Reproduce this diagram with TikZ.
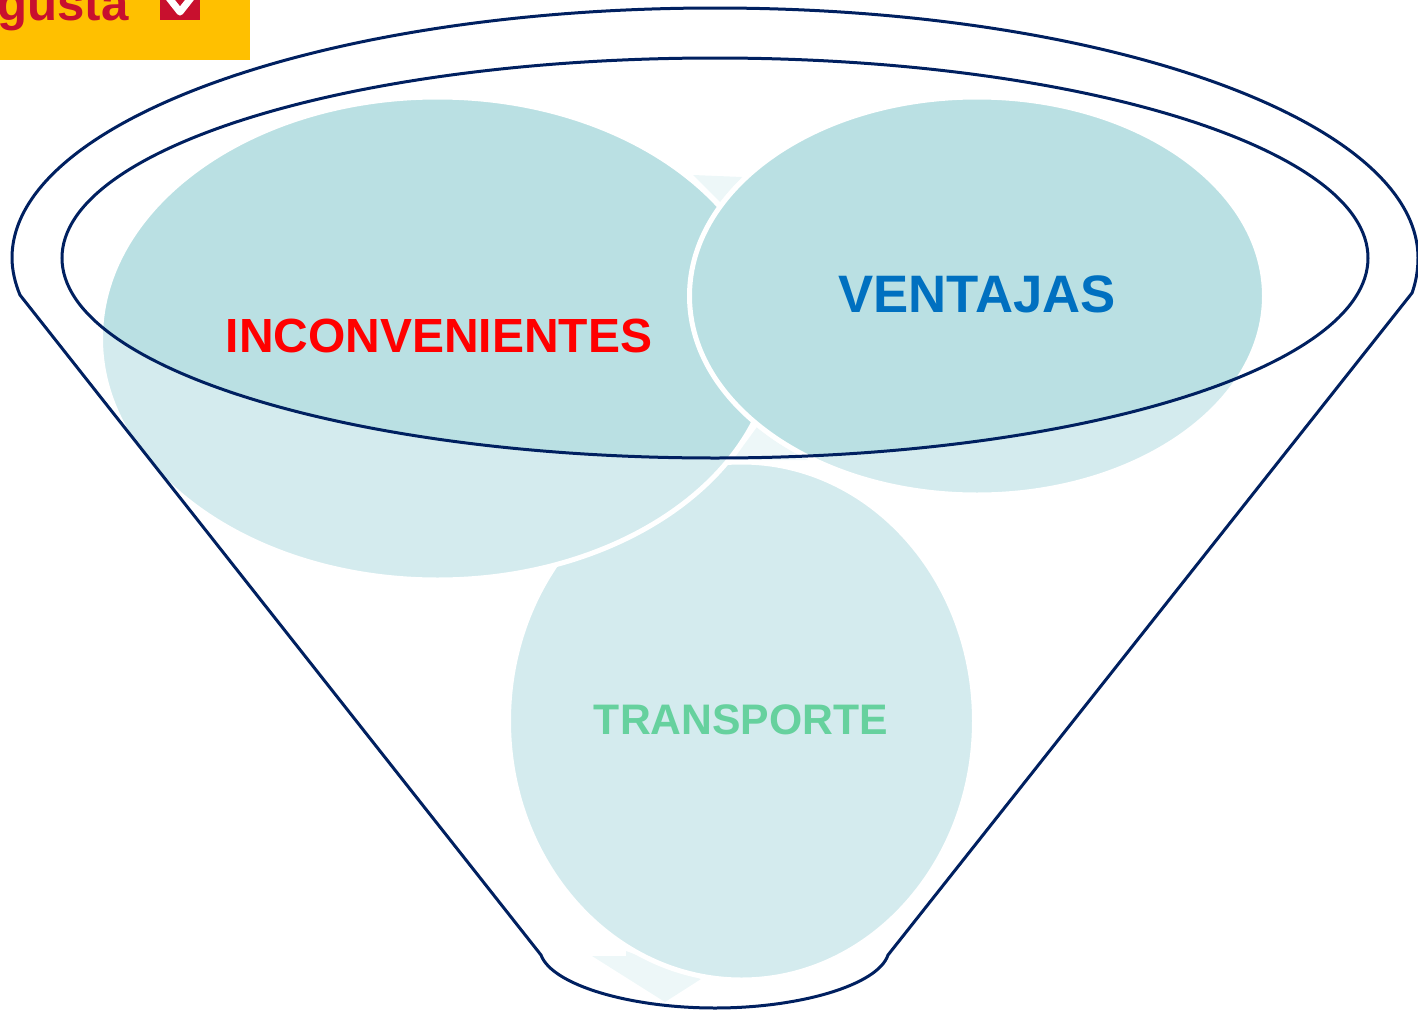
\documentclass[tikz,border=0pt]{standalone}
\usepackage{fontspec}
\setmainfont{Liberation Sans}
\definecolor{funnelblue}{HTML}{002060}
\definecolor{lightlobe}{HTML}{D4EBEE}
\definecolor{darklobe}{HTML}{BAE0E3}
\definecolor{paletip}{HTML}{EDF7F8}
\definecolor{logoyellow}{HTML}{FFC000}
\definecolor{logored}{HTML}{C8102E}
\definecolor{transgreen}{HTML}{66D19E}
\definecolor{ventblue}{HTML}{0070C0}

\begin{document}
\begin{tikzpicture}[
  x=0.02cm,y=-0.02cm,
  funnel/.style={draw=funnelblue,line width=0.06cm},
  lobe/.style={draw=white,line width=0.1cm},
  label/.style={font=\bfseries\fontsize{#1}{#1}\selectfont}
]

\useasboundingbox (0,0) rectangle (1418,1011);

\begin{scope}
\clip (0,0) rectangle (1418,1011);
\fill[logoyellow] (0,0) rectangle (250,60);
\node[anchor=base west,inner sep=0pt,text=logored,font=\bfseries\fontsize{28pt}{28pt}\selectfont] (logo) at (-3,20) {gusta};
\fill[logored] (160,0) rectangle (200,20);
\draw[white,line width=0.14cm,line join=round] (169,-2) -- (180,12) -- (191,-2);
\end{scope}

\fill[paletip] (693,175) -- (742,177) -- (721,203) -- cycle;
\fill[paletip] (757,427) -- (812,460) -- (733,460) -- cycle;
\fill[paletip] (592,956) -- (626,956) -- (626,951) -- (701,979) -- (665,1002) -- cycle;

\draw[lobe,fill=lightlobe] (741.5,721) ellipse (233 and 259);
\draw[lobe,fill=lightlobe] (437.5,338.5) ellipse (337 and 241.5);
\draw[lobe,fill=lightlobe] (977,296) ellipse (287.5 and 199);

\begin{scope}
\clip (715,258) ellipse (653 and 200);
\draw[lobe,fill=darklobe] (437.5,338.5) ellipse (337 and 241.5);
\draw[lobe,fill=darklobe] (977,296) ellipse (287.5 and 199);
\end{scope}

\node[label=27.3pt,text=red] (inconv) at (439,336) {INCONVENIENTES};
\node[label=30pt,text=ventblue] (ventajas) at (977,294) {VENTAJAS};
\node[label=24.3pt,text=transgreen] (transporte) at (741,720) {TRANSPORTE};

\draw[funnel] (715,258) ellipse (653 and 200);
\draw[funnel,line join=round] (20,295) .. controls (15,283) and (12,270) .. (12,258)
  .. controls (12,120) and (327,8) .. (715,8)
  .. controls (1103,8) and (1418,120) .. (1418,258)
  .. controls (1418,270) and (1416,282) .. (1412,293)
  -- (888,955)
  .. controls (878,985) and (800,1008) .. (715,1008)
  .. controls (630,1008) and (552,985) .. (541,955) -- cycle;

\end{tikzpicture}
\end{document}
